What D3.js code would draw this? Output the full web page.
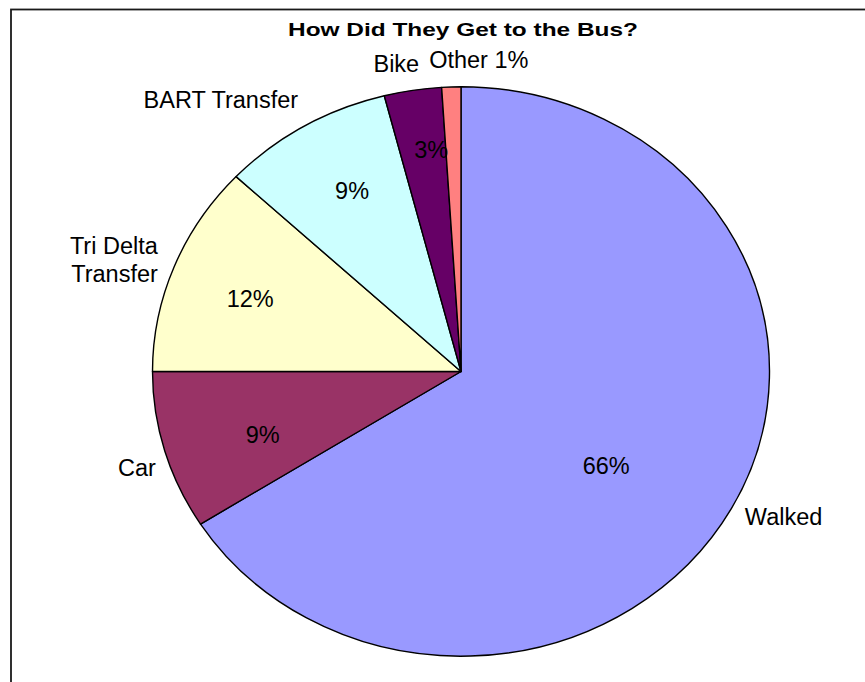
<!DOCTYPE html>
<html>
<head>
<meta charset="utf-8">
<script src="https://cdn.jsdelivr.net/npm/d3@7"></script>
<style>
  html, body { margin: 0; padding: 0; background: #fff; }
  svg { display: block; }
  text { font-family: "Liberation Sans", Arial, Helvetica, sans-serif; fill: #000; }
</style>
</head>
<body>
<svg id="chart" width="865" height="682"></svg>
<script>
// Survey results: how riders got to the bus stop (percent of riders)
const titleText = "How Did They Get to the Bus?";
const categories = ["Walked", "Car", "Tri Delta\nTransfer", "BART Transfer", "Bike", "Other"];
const shares = [66, 9, 12, 9, 3, 1];
const sliceColors = ["#9999FF", "#993366", "#FFFFCC", "#CCFFFF", "#660066", "#FF8080"];

const W = 865, H = 682;
const cx = 461, cy = 371.5;      // pie centre
const rx = 308.5, ry = 284.7;    // plot area is a little wider than tall
const fontSize = 23.5;
const lineH = 27.7;

// small hand adjustments of label placement, in pixels [dx, dy]
const outerNudge = { "Walked": [0, -5], "Car": [6, 9.5], "Tri Delta\nTransfer": [-2, 3],
                     "BART Transfer": [2, -3], "Bike": [-14, 0], "Other": [28, 0] };
const innerNudge = { "Walked": [-44, -1.5], "Car": [9, 7], "Tri Delta\nTransfer": [-10, 0],
                     "BART Transfer": [1, -9], "Bike": [4, -25] };

const svg = d3.select("#chart");

// chart frame
svg.append("rect")
  .attr("x", 11).attr("y", 9.5)
  .attr("width", W + 20).attr("height", H + 20)
  .attr("fill", "#fff")
  .attr("stroke", "#1a1a1a").attr("stroke-width", 1.8);

// title, set wide like the rest of the chart
svg.append("text")
  .attr("x", 463).attr("y", 36)
  .attr("text-anchor", "middle")
  .attr("font-weight", "bold")
  .attr("font-size", 19)
  .attr("textLength", 350)
  .attr("lengthAdjust", "spacingAndGlyphs")
  .text(titleText);

const data = categories.map((c, i) => ({ name: c, value: shares[i], color: sliceColors[i] }));

const pie = d3.pie().sort(null).value(d => d.value).startAngle(0).endAngle(2 * Math.PI);
const arcs = pie(data);

const arc = d3.arc().innerRadius(0).outerRadius(ry);

const pieG = svg.append("g")
  .attr("transform", `translate(${cx},${cy}) scale(${rx / ry},1)`);

pieG.selectAll("path")
  .data(arcs)
  .join("path")
  .attr("d", arc)
  .attr("fill", d => d.data.color)
  .attr("stroke", "#000")
  .attr("stroke-width", 1.4)
  .attr("stroke-linejoin", "round")
  .attr("vector-effect", "non-scaling-stroke");

// point on the (elliptical) pie at angle a and radius fraction k
function ptAt(a, k) {
  return [cx + rx * k * Math.sin(a), cy - ry * k * Math.cos(a)];
}

const capMid = fontSize * 0.716 / 2;

// value labels inside slices
arcs.forEach(d => {
  if (d.data.value < 2) return;
  const mid = (d.startAngle + d.endAngle) / 2;
  const [x, y] = ptAt(mid, 0.7);
  const n = innerNudge[d.data.name] || [0, 0];
  svg.append("text")
    .attr("x", x + n[0]).attr("y", y + n[1] + capMid)
    .attr("text-anchor", "middle")
    .attr("font-size", fontSize)
    .text(d.data.value + "%");
});

// category labels outside the pie
arcs.forEach(d => {
  const mid = (d.startAngle + d.endAngle) / 2;
  const s = Math.sin(mid), c = Math.cos(mid);
  const [px, py] = ptAt(mid, 1.05);
  const anchor = s > 0.25 ? "start" : (s < -0.25 ? "end" : "middle");
  const lines = d.data.name.split("\n");
  if (d.data.value < 2) lines[lines.length - 1] += " " + d.data.value + "%";
  const n = outerNudge[d.data.name] || [0, 0];
  const centre = py - c * 13;
  const firstBase = centre + capMid - (lines.length - 1) * lineH / 2;
  const t = svg.append("text")
    .attr("text-anchor", anchor)
    .attr("font-size", fontSize);
  lines.forEach((ln, i) => {
    t.append("tspan")
      .attr("x", px + n[0])
      .attr("y", firstBase + i * lineH + n[1])
      .text(ln);
  });
});
</script>
</body>
</html>
